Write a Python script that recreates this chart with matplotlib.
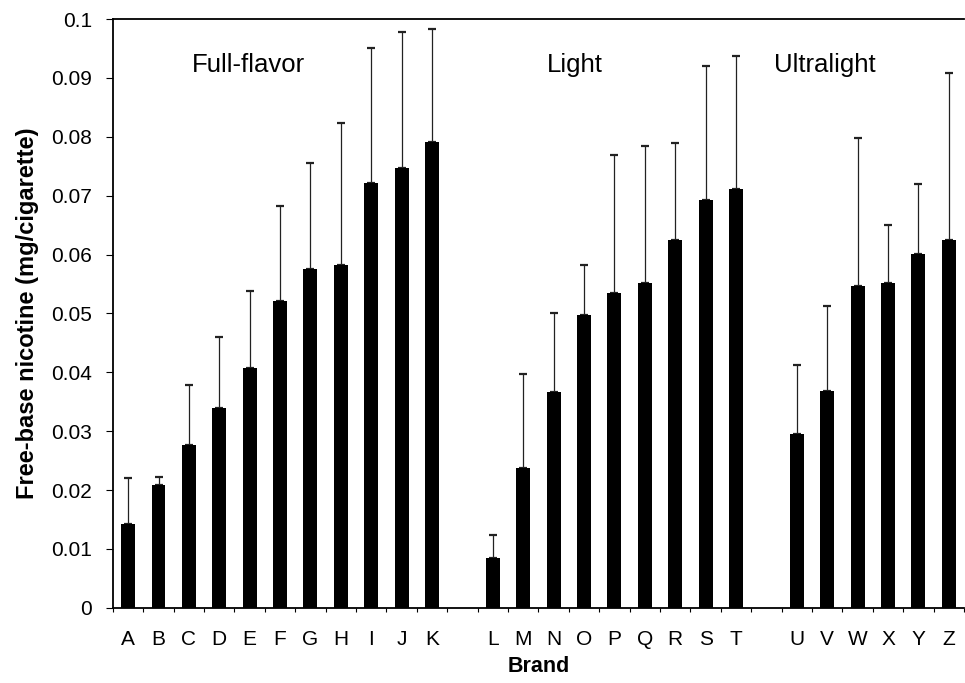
import matplotlib.pyplot as plt
import numpy as np

plt.rcParams['font.family'] = ['Liberation Sans', 'DejaVu Sans']

# data (mg/cigarette)
full_brands = ['A', 'B', 'C', 'D', 'E', 'F', 'G', 'H', 'I', 'J', 'K']
full_mean = [0.0142, 0.0208, 0.0277, 0.0340, 0.0408, 0.0522, 0.0575, 0.0582, 0.0721, 0.0747, 0.0791]
full_top = [0.0220, 0.0222, 0.0378, 0.0460, 0.0538, 0.0682, 0.0756, 0.0823, 0.0951, 0.0978, 0.0984]

light_brands = ['L', 'M', 'N', 'O', 'P', 'Q', 'R', 'S', 'T']
light_mean = [0.0085, 0.0238, 0.0366, 0.0497, 0.0535, 0.0552, 0.0625, 0.0692, 0.0712]
light_top = [0.0123, 0.0397, 0.0500, 0.0583, 0.0770, 0.0785, 0.0790, 0.0920, 0.0937]

ultra_brands = ['U', 'V', 'W', 'X', 'Y', 'Z']
ultra_mean = [0.0295, 0.0368, 0.0547, 0.0551, 0.0601, 0.0625]
ultra_top = [0.0413, 0.0513, 0.0798, 0.0650, 0.0720, 0.0909]

groups = [('Full-flavor', full_brands, full_mean, full_top),
          ('Light', light_brands, light_mean, light_top),
          ('Ultralight', ultra_brands, ultra_mean, ultra_top)]

fig = plt.figure(figsize=(9.65, 6.83), dpi=100)
ax = fig.add_axes([0.117, 0.110, 0.882, 0.862])

label_pos = [3.97, 14.68, 22.93]
xs_all = []
names_all = []
start = 0
for (gname, brands, mean, top), lx in zip(groups, label_pos):
    x = np.arange(start, start + len(brands))
    mean = np.array(mean)
    err = np.array(top) - mean
    ax.bar(x, mean, width=0.46, color='black', zorder=2)
    ax.errorbar(x, mean, yerr=[np.zeros_like(err), err], fmt='none',
                ecolor='#222222', elinewidth=0.9, capsize=3, capthick=1.6, zorder=1)
    ax.text(lx, 0.0922, gname, ha='center', va='center', fontsize=18.5)
    xs_all += list(x)
    names_all += brands
    start += len(brands) + 1

ax.set_xlim(-0.5, 27.5)
ax.set_ylim(0, 0.1)
ax.set_yticks(np.arange(0, 0.101, 0.01))
ax.set_yticklabels(['0'] + ['%.2f' % v for v in np.arange(0.01, 0.095, 0.01)] + ['0.1'])
ax.set_xticks(xs_all)
ax.set_xticklabels(names_all)
ax.set_xticks(np.arange(-0.5, 27.6, 1.0), minor=True)
ax.tick_params(axis='x', which='major', length=0, pad=16, labelsize=15)
ax.tick_params(axis='x', which='minor', length=3, direction='out', width=0.8)
ax.tick_params(axis='y', length=5, direction='out', labelsize=15, pad=10)

ax.spines['right'].set_visible(False)
for s in ['left', 'bottom', 'top']:
    ax.spines[s].set_linewidth(1.3)

ax.set_xlabel('Brand', fontsize=15.5, fontweight='bold', labelpad=5)
ax.set_ylabel('Free-base nicotine (mg/cigarette)', fontsize=17, fontweight='bold', labelpad=9)

fig.savefig('out.png', dpi=100)
